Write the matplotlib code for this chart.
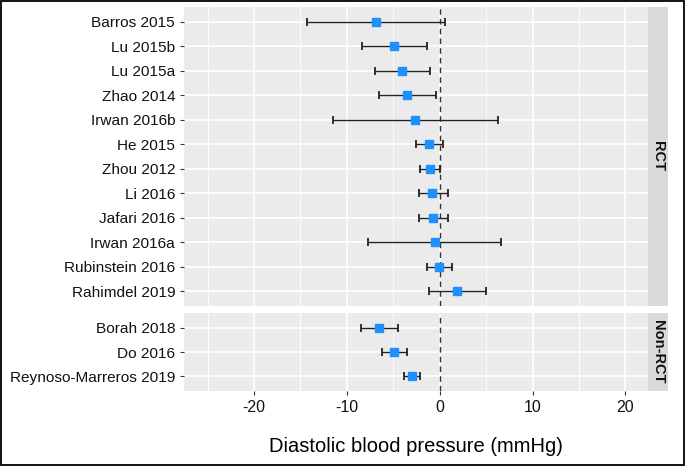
import matplotlib
matplotlib.use("Agg")
import matplotlib.pyplot as plt
from matplotlib.patches import Rectangle
import numpy as np

plt.rcParams["font.family"] = ["Liberation Sans", "DejaVu Sans"]

# —— data (top row first) —— #
rct_studies = ["Barros 2015", "Lu 2015b", "Lu 2015a", "Zhao 2014", "Irwan 2016b",
               "He 2015", "Zhou 2012", "Li 2016", "Jafari 2016", "Irwan 2016a",
               "Rubinstein 2016", "Rahimdel 2019"]
rct_est = [-6.9, -4.9, -4.1, -3.5, -2.7, -1.2, -1.05, -0.8, -0.7, -0.55, -0.05, 1.9]
rct_low = [-14.3, -8.4, -7.0, -6.5, -11.5, -2.55, -2.1, -2.2, -2.2, -7.7, -1.35, -1.15]
rct_high = [0.6, -1.35, -1.1, -0.45, 6.3, 0.4, 0.0, 0.85, 0.9, 6.6, 1.35, 5.0]

nonrct_studies = ["Borah 2018", "Do 2016", "Reynoso-Marreros 2019"]
nonrct_est = [-6.5, -4.95, -3.0]
nonrct_low = [-8.45, -6.25, -3.85]
nonrct_high = [-4.45, -3.5, -2.1]

x_ticks = [-20, -10, 0, 10, 20]
x_minor = [-25, -15, -5, 5, 15]

W, H = 685, 466
fig = plt.figure(figsize=(W / 100, H / 100), dpi=100)

panel_left, panel_right = 183.5, 647.7
strip_right = 667.7


def frac_box(x0, y0, x1, y1):
    # pixel box (top-left origin) -> figure fraction
    return [x0 / W, 1 - y1 / H, (x1 - x0) / W, (y1 - y0) / H]


def draw_panel(rect, studies, est, low, high, show_x):
    ax = fig.add_axes(rect)
    n = len(studies)
    y = np.arange(n, 0, -1)
    ax.set_facecolor("#EBEBEB")
    for s in ax.spines.values():
        s.set_visible(False)
    ax.set_xlim(-27.6, 22.4)
    ax.set_ylim(0.4, n + 0.6)
    for xm in x_minor:
        ax.axvline(xm, color="white", lw=0.6, zorder=0)
    for xt in x_ticks:
        ax.axvline(xt, color="white", lw=1.2, zorder=0)
    for yy in y:
        ax.axhline(yy, color="white", lw=1.2, zorder=0)
    ax.axvline(0, color="#333333", lw=1.0, ls=(0, (4, 3)), zorder=1)
    est = np.array(est)
    err = [est - np.array(low), np.array(high) - est]
    ax.errorbar(est, y, xerr=err, fmt="none", ecolor="#222222", elinewidth=1.0,
                capsize=3, capthick=1.3, zorder=2)
    ax.plot(est, y, "s", color="#1E90FF", markersize=6, zorder=3)
    ax.set_yticks(y)
    ax.set_yticklabels(studies, fontsize=11.1, color="#111111")
    ax.tick_params(axis="y", length=3, width=0.8, color="#333333", pad=3)
    ax.set_xticks(x_ticks)
    if show_x:
        ax.set_xticklabels([str(t) for t in x_ticks], fontsize=11.5, color="#111111")
        ax.tick_params(axis="x", length=3, width=0.8, color="#333333", pad=4)
    else:
        ax.tick_params(axis="x", length=0, labelbottom=False)
    return ax


def draw_strip(y0, y1, label):
    sax = fig.add_axes(frac_box(panel_right, y0, strip_right, y1))
    sax.set_facecolor("#D9D9D9")
    sax.set_xticks([])
    sax.set_yticks([])
    for s in sax.spines.values():
        s.set_visible(False)
    sax.text(0.5, 0.5, label, rotation=-90, ha="center", va="center",
             fontsize=10.5, fontweight="bold", color="#111111", transform=sax.transAxes)


draw_panel(frac_box(panel_left, 7, panel_right, 305.7),
           rct_studies, rct_est, rct_low, rct_high, False)
draw_strip(7, 305.7, "RCT")

draw_panel(frac_box(panel_left, 313.3, panel_right, 390.7),
           nonrct_studies, nonrct_est, nonrct_low, nonrct_high, True)
draw_strip(313.3, 390.7, "Non-RCT")

fig.text((panel_left + panel_right) / 2 / W, 1 - 446.5 / H,
         "Diastolic blood pressure (mmHg)", ha="center", va="center",
         fontsize=14.5, color="black")

# outer border
fig.patches.append(Rectangle((0.001, 0.002), 0.997, 0.996, transform=fig.transFigure,
                             fill=False, edgecolor="black", lw=1.3))

fig.savefig("out.png", dpi=100)
